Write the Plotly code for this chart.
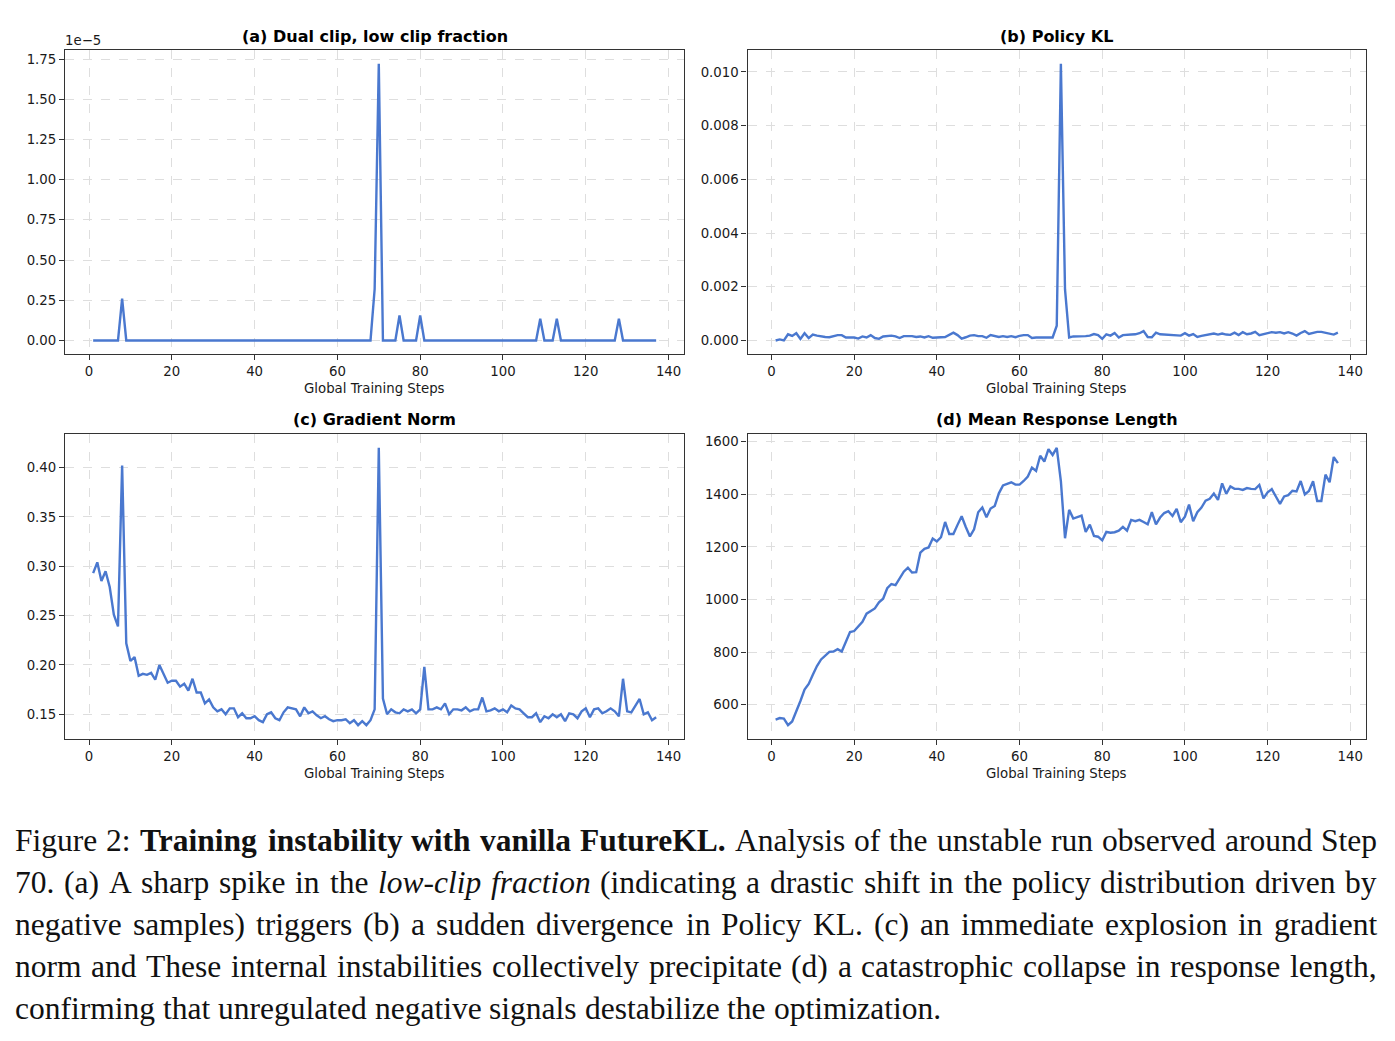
import re
import plotly.graph_objects as go

# ---------------- data ----------------
steps = list(range(1, 138))

low_clip_fraction = [
    0, 0, 0, 0, 0, 0, 0, 2.6e-6, 0, 0,
    0, 0, 0, 0, 0, 0, 0, 0, 0, 0,
    0, 0, 0, 0, 0, 0, 0, 0, 0, 0,
    0, 0, 0, 0, 0, 0, 0, 0, 0, 0,
    0, 0, 0, 0, 0, 0, 0, 0, 0, 0,
    0, 0, 0, 0, 0, 0, 0, 0, 0, 0,
    0, 0, 0, 0, 0, 0, 0, 0, 3.2e-6, 1.72e-5,
    0, 0, 0, 0, 1.55e-6, 0, 0, 0, 0, 1.55e-6,
    0, 0, 0, 0, 0, 0, 0, 0, 0, 0,
    0, 0, 0, 0, 0, 0, 0, 0, 0, 0,
    0, 0, 0, 0, 0, 0, 0, 0, 1.35e-6, 0,
    0, 0, 1.35e-6, 0, 0, 0, 0, 0, 0, 0,
    0, 0, 0, 0, 0, 0, 0, 1.35e-6, 0, 0,
    0, 0, 0, 0, 0, 0, 0,
]

policy_kl = [
    0.00000, 0.00004, 0.00000, 0.00023, 0.00017, 0.00027, 0.00006, 0.00027, 0.00009, 0.00022,
    0.00018, 0.00015, 0.00013, 0.00012, 0.00015, 0.00020, 0.00020, 0.00011, 0.00011, 0.00011,
    0.00007, 0.00015, 0.00011, 0.00020, 0.00009, 0.00006, 0.00015, 0.00017, 0.00018, 0.00015,
    0.00009, 0.00016, 0.00016, 0.00016, 0.00013, 0.00015, 0.00011, 0.00016, 0.00010, 0.00012,
    0.00012, 0.00013, 0.00021, 0.00029, 0.00020, 0.00007, 0.00012, 0.00018, 0.00020, 0.00016,
    0.00016, 0.00010, 0.00020, 0.00016, 0.00013, 0.00016, 0.00013, 0.00016, 0.00012, 0.00017,
    0.00020, 0.00020, 0.00009, 0.00011, 0.00011, 0.00010, 0.00011, 0.00011, 0.00055, 0.01030,
    0.00190, 0.00011, 0.00015, 0.00015, 0.00016, 0.00016, 0.00018, 0.00024, 0.00020, 0.00006,
    0.00023, 0.00018, 0.00028, 0.00011, 0.00020, 0.00022, 0.00022, 0.00023, 0.00027, 0.00035,
    0.00013, 0.00012, 0.00029, 0.00023, 0.00022, 0.00022, 0.00022, 0.00021, 0.00018, 0.00027,
    0.00018, 0.00024, 0.00013, 0.00017, 0.00020, 0.00022, 0.00026, 0.00022, 0.00026, 0.00022,
    0.00021, 0.00029, 0.00020, 0.00031, 0.00023, 0.00026, 0.00032, 0.00020, 0.00023, 0.00027,
    0.00031, 0.00029, 0.00031, 0.00026, 0.00031, 0.00026, 0.00018, 0.00028, 0.00035, 0.00024,
    0.00028, 0.00032, 0.00032, 0.00028, 0.00026, 0.00022, 0.00029,
]

grad_norm = [
    0.293, 0.304, 0.285, 0.295, 0.279, 0.251, 0.239, 0.402, 0.222, 0.204,
    0.208, 0.189, 0.191, 0.190, 0.192, 0.185, 0.200, 0.191, 0.182, 0.184,
    0.184, 0.178, 0.181, 0.174, 0.186, 0.172, 0.172, 0.161, 0.165, 0.157,
    0.153, 0.155, 0.150, 0.156, 0.156, 0.147, 0.151, 0.146, 0.146, 0.148,
    0.144, 0.142, 0.150, 0.152, 0.146, 0.144, 0.152, 0.157, 0.156, 0.155,
    0.148, 0.157, 0.151, 0.153, 0.149, 0.146, 0.148, 0.145, 0.143, 0.144,
    0.144, 0.145, 0.141, 0.144, 0.139, 0.143, 0.139, 0.144, 0.155, 0.420,
    0.166, 0.150, 0.155, 0.152, 0.151, 0.155, 0.153, 0.155, 0.151, 0.155,
    0.198, 0.155, 0.155, 0.157, 0.155, 0.161, 0.150, 0.155, 0.155, 0.154,
    0.157, 0.153, 0.155, 0.155, 0.167, 0.153, 0.154, 0.156, 0.153, 0.155,
    0.152, 0.159, 0.156, 0.155, 0.151, 0.147, 0.147, 0.151, 0.142, 0.148,
    0.146, 0.150, 0.147, 0.150, 0.143, 0.151, 0.150, 0.146, 0.153, 0.156,
    0.147, 0.155, 0.156, 0.151, 0.153, 0.156, 0.153, 0.148, 0.186, 0.153,
    0.152, 0.159, 0.1655, 0.150, 0.152, 0.144, 0.147,
]

response_length = [
    543, 549, 547, 522, 536, 572, 614, 657, 679, 714,
    747, 772, 787, 801, 802, 811, 802, 841, 876, 880,
    897, 915, 946, 957, 966, 989, 1003, 1043, 1059, 1055,
    1079, 1106, 1121, 1103, 1104, 1178, 1193, 1198, 1232, 1221,
    1237, 1295, 1249, 1249, 1284, 1317, 1276, 1240, 1267, 1332,
    1350, 1313, 1346, 1356, 1404, 1434, 1440, 1446, 1437, 1437,
    1451, 1468, 1502, 1489, 1547, 1525, 1572, 1550, 1577, 1450,
    1233, 1341, 1308, 1313, 1319, 1257, 1285, 1242, 1239, 1225,
    1257, 1254, 1256, 1262, 1276, 1262, 1303, 1298, 1303, 1295,
    1286, 1332, 1286, 1312, 1329, 1336, 1318, 1345, 1294, 1315,
    1361, 1298, 1332, 1350, 1376, 1383, 1403, 1379, 1442, 1402,
    1430, 1421, 1421, 1417, 1424, 1421, 1420, 1436, 1385, 1408,
    1420, 1392, 1364, 1392, 1397, 1414, 1411, 1451, 1400, 1413,
    1450, 1375, 1375, 1475, 1446, 1542, 1519,
]

panel_titles = [
    "(a) Dual clip, low clip fraction",
    "(b) Policy KL",
    "(c) Gradient Norm",
    "(d) Mean Response Length",
]
x_label = "Global Training Steps"
x_ticks = [0, 20, 40, 60, 80, 100, 120, 140]
a_ticks = [0, 0.25e-5, 0.5e-5, 0.75e-5, 1.0e-5, 1.25e-5, 1.5e-5, 1.75e-5]
a_ticktext = ["0.00", "0.25", "0.50", "0.75", "1.00", "1.25", "1.50", "1.75"]
b_ticks = [0, 0.002, 0.004, 0.006, 0.008, 0.010]
c_ticks = [0.15, 0.20, 0.25, 0.30, 0.35, 0.40]
d_ticks = [600, 800, 1000, 1200, 1400, 1600]

caption_lines = [
    "Figure 2: <b>Training instability with vanilla FutureKL.</b> Analysis of the unstable run observed around Step",
    "70. (a) A sharp spike in the <i>low-clip fraction</i> (indicating a drastic shift in the policy distribution driven by",
    "negative samples) triggers (b) a sudden divergence in Policy KL. (c) an immediate explosion in gradient",
    "norm and These internal instabilities collectively precipitate (d) a catastrophic collapse in response length,",
    "confirming that unregulated negative signals destabilize the optimization.",
]

# ---------------- layout helpers ----------------
W, H = 1395, 1041
LINE_COLOR = "#4a78cf"
FONT = "DejaVu Sans"
CAP_FONT = "Liberation Serif"
CAP_SIZE = 31.5
CAP_LEFT, CAP_RIGHT = 15, 1377


def px_x(x):
    return x / W


def px_y(y):
    return 1 - y / H


def pad_range(vals, frac=0.05):
    lo, hi = min(vals), max(vals)
    d = hi - lo
    return [lo - frac * d, hi + frac * d]


# approximate Times metrics (Liberation Serif is metric compatible), per 1000 em
_REG = dict(zip("abcdefghijklmnopqrstuvwxyz",
                [444, 500, 444, 500, 444, 333, 500, 500, 278, 278, 500, 278, 778,
                 500, 500, 500, 500, 333, 389, 278, 500, 500, 722, 500, 500, 444]))
_REG.update(dict(zip("ABCDEFGHIJKLMNOPQRSTUVWXYZ",
                     [722, 667, 667, 722, 611, 556, 722, 722, 333, 389, 722, 611, 889,
                      722, 722, 556, 722, 667, 556, 611, 722, 722, 944, 722, 722, 611])))
_REG.update({d: 500 for d in "0123456789"})
_REG.update({".": 250, ",": 250, ":": 278, "(": 333, ")": 333, "-": 333, " ": 250})
_BOLD = dict(_REG)
_BOLD.update(dict(zip("abcdefghijklmnopqrstuvwxyz",
                      [500, 556, 444, 556, 444, 333, 500, 556, 278, 333, 556, 278, 833,
                       556, 500, 556, 556, 444, 389, 333, 556, 500, 722, 500, 500, 444])))
_BOLD.update({"F": 611, "K": 778, "L": 667, "T": 667})
_ITAL = dict(_REG)
_ITAL.update(dict(zip("abcdefghijklmnopqrstuvwxyz",
                      [500, 500, 444, 500, 444, 278, 500, 500, 278, 278, 444, 278, 722,
                       500, 500, 500, 500, 389, 389, 278, 500, 444, 667, 444, 444, 389])))
_TABLES = {"r": _REG, "b": _BOLD, "i": _ITAL}


def word_width(word, style):
    t = _TABLES[style]
    return sum(t.get(ch, 500) for ch in word) / 1000.0 * CAP_SIZE


def tokenize(line):
    out, style = [], "r"
    for part in re.split(r"(<b>|</b>|<i>|</i>)", line):
        if part == "<b>":
            style = "b"
            continue
        if part == "<i>":
            style = "i"
            continue
        if part in ("</b>", "</i>"):
            style = "r"
            continue
        for w in part.split(" "):
            if w:
                out.append((w, style))
    return out


cols = [(65, 684.3), (747.5, 1366)]
rows = [(50, 354.3), (434, 739)]

fig = go.Figure()

series = [low_clip_fraction, policy_kl, grad_norm, response_length]
for i, ys in enumerate(series):
    fig.add_trace(go.Scatter(
        x=steps, y=ys, mode="lines",
        line=dict(color=LINE_COLOR, width=2.4),
        xaxis="x" + ("" if i == 0 else str(i + 1)),
        yaxis="y" + ("" if i == 0 else str(i + 1)),
        showlegend=False, hoverinfo="skip",
    ))

common_axis = dict(
    showline=True, linecolor="#333333", linewidth=1.2, mirror=True,
    ticks="outside", ticklen=5, tickwidth=1.1, tickcolor="#333333",
    showgrid=True, gridcolor="#dedede", gridwidth=0.9, griddash="dash",
    zeroline=False,
    tickfont=dict(family=FONT, size=13.3, color="#1a1a1a"),
)

xr = pad_range(steps)
y_ticks = [
    dict(tickvals=a_ticks, ticktext=a_ticktext),
    dict(tickvals=b_ticks, tickformat=".3f"),
    dict(tickvals=c_ticks, tickformat=".2f"),
    dict(tickvals=d_ticks, tickformat="d"),
]

layout_axes = {}
for i in range(4):
    r, c = divmod(i, 2)
    sfx = "" if i == 0 else str(i + 1)
    x0, x1 = cols[c]
    ytop, ybot = rows[r]
    layout_axes["xaxis" + sfx] = dict(
        common_axis, domain=[px_x(x0), px_x(x1)], range=xr,
        tickvals=x_ticks, anchor="y" + sfx,
    )
    layout_axes["yaxis" + sfx] = dict(
        common_axis, domain=[px_y(ybot), px_y(ytop)], range=pad_range(series[i]),
        anchor="x" + sfx, **y_ticks[i],
    )

annotations = []
for i in range(4):
    r, c = divmod(i, 2)
    x0, x1 = cols[c]
    ytop, ybot = rows[r]
    annotations.append(dict(
        text="<b>" + panel_titles[i] + "</b>", x=px_x((x0 + x1) / 2), y=px_y(ytop - 14),
        xref="paper", yref="paper", xanchor="center", yanchor="middle", showarrow=False,
        font=dict(family=FONT, size=16, color="#000000"),
    ))
    annotations.append(dict(
        text=x_label, x=px_x((x0 + x1) / 2), y=px_y(ybot + 34),
        xref="paper", yref="paper", xanchor="center", yanchor="middle", showarrow=False,
        font=dict(family=FONT, size=13.3, color="#1a1a1a"),
    ))

annotations.append(dict(
    text="1e\u22125", x=px_x(63), y=px_y(41), xref="paper", yref="paper",
    xanchor="left", yanchor="middle", showarrow=False,
    font=dict(family=FONT, size=13.3, color="#1a1a1a"),
))

# caption: justified lines (all but the last), word by word
space_w = 0.25 * CAP_SIZE
for k, line in enumerate(caption_lines):
    toks = tokenize(line)
    widths = [word_width(w, s) for w, s in toks]
    justify = k < len(caption_lines) - 1 and len(toks) > 1
    if justify:
        gap = (CAP_RIGHT - CAP_LEFT - sum(widths)) / (len(toks) - 1)
    else:
        gap = space_w
    xpos = CAP_LEFT
    ycen = px_y(840 + 42 * k)
    for j, ((w, s), wd) in enumerate(zip(toks, widths)):
        txt = {"r": w, "b": "<b>" + w + "</b>", "i": "<i>" + w + "</i>"}[s]
        last = justify and j == len(toks) - 1
        annotations.append(dict(
            text=txt, x=px_x(CAP_RIGHT if last else xpos), y=ycen,
            xref="paper", yref="paper",
            xanchor="right" if last else "left", yanchor="middle",
            showarrow=False, borderpad=0, borderwidth=0,
            font=dict(family=CAP_FONT, size=CAP_SIZE, color="#111111"),
        ))
        xpos += wd + gap

fig.update_layout(
    width=W, height=H, margin=dict(l=0, r=0, t=0, b=0),
    paper_bgcolor="white", plot_bgcolor="white",
    annotations=annotations, **layout_axes,
)

fig.write_html("out.html")
